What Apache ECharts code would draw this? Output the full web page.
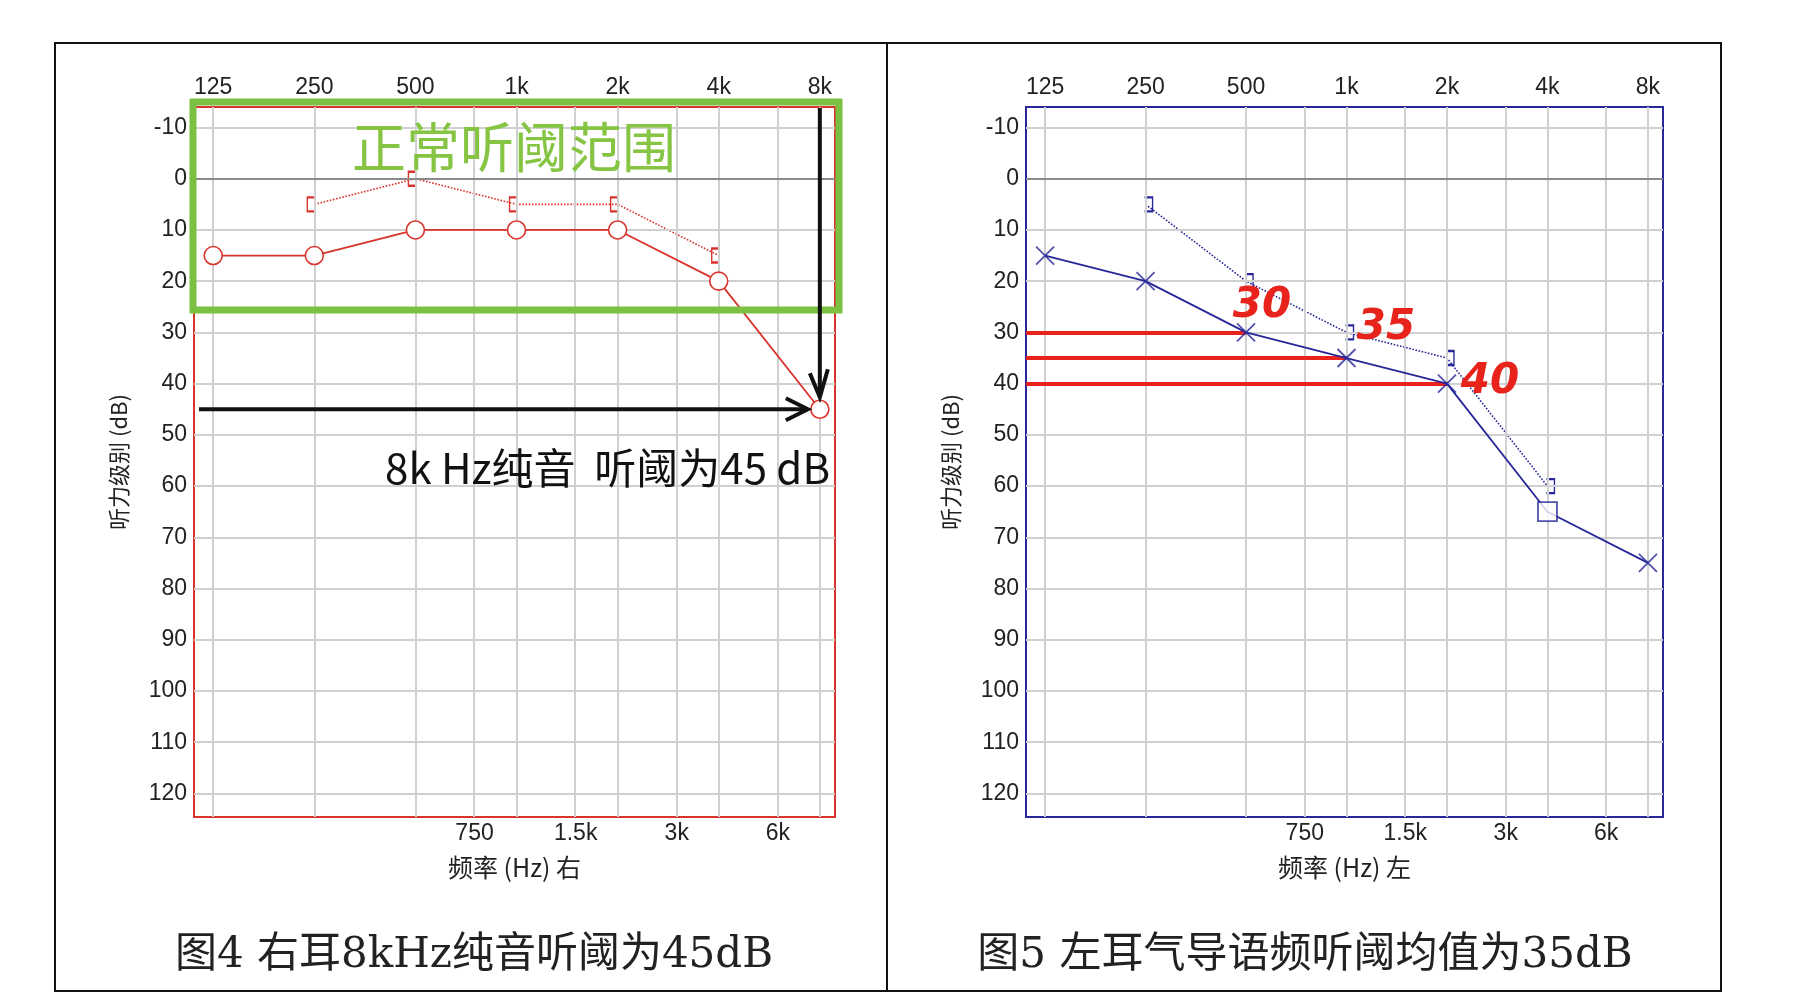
<!DOCTYPE html>
<html><head><meta charset="utf-8">
<script src="https://cdn.jsdelivr.net/npm/echarts@6/dist/echarts.min.js"></script>
<style>html,body{margin:0;padding:0;background:#fff}#c{width:1813px;height:1000px}</style>
</head><body><div id="c"></div>
<script>
const freqs = [125, 250, 500, 1000, 2000, 4000, 8000];
const topLabels = ['125', '250', '500', '1k', '2k', '4k', '8k'];
const midFreqs = [750, 1500, 3000, 6000];
const midLabels = ['750', '1.5k', '3k', '6k'];
const dbTicks = [-10, 0, 10, 20, 30, 40, 50, 60, 70, 80, 90, 100, 110, 120];

const rightAC = [15, 15, 10, 10, 10, 20, 45];
const rightBCFreq = [250, 500, 1000, 2000, 4000];
const rightBC = [5, 0, 5, 5, 15];

const leftACFreq = [125, 250, 500, 1000, 2000, 8000];
const leftAC = [15, 20, 30, 35, 40, 75];
const leftMaskedFreq = [4000];
const leftMasked = [65];
const leftBCFreq = [250, 500, 1000, 2000, 4000];
const leftBC = [5, 20, 30, 35, 60];
const pta = [[500, 30], [1000, 35], [2000, 40]];

const oct = f => Math.log2(f / 125);
const pts = (fs, vs) => fs.map((f, i) => [oct(f), vs[i]]);

const XMIN = -0.19, XMAX = 6.15, YMIN = -14.0, YMAX = 124.6;
const RED = '#d9332b', BLUE = '#27279a';
const X_SYM = 'path://M0,0L10,10M10,0L0,10';
const LB_SYM = 'path://M5,0L0,0L0,10L5,10';
const RB_SYM = 'path://M0,0L5,0L5,10L0,10';
const LBL = {color: '#222', fontSize: 23, fontFamily: 'Liberation Sans'};

const grids = [
  {left: 194, top: 107, width: 641, height: 710},
  {left: 1026, top: 107, width: 637, height: 710}
];
const xAxes = [], yAxes = [], series = [];
[0, 1].forEach(g => {
  const col = g === 0 ? RED : BLUE;
  const line = {show: true, onZero: false, lineStyle: {color: col, width: 2}};
  xAxes.push({gridIndex: g, type: 'value', position: 'top', min: XMIN, max: XMAX,
    splitLine: {show: false}, axisLine: line, axisTick: {show: false},
    axisLabel: Object.assign({customValues: freqs.map(oct), formatter: v => topLabels[Math.round(v)], margin: 8}, LBL)});
  xAxes.push({gridIndex: g, type: 'value', position: 'bottom', min: XMIN, max: XMAX,
    splitLine: {show: false}, axisLine: line, axisTick: {show: false},
    name: g === 0 ? '频率 (Hz) 右' : '频率 (Hz) 左', nameLocation: 'middle', nameGap: 38,
    nameTextStyle: {color: '#222', fontSize: 25, fontFamily: 'Noto Sans CJK SC'},
    axisLabel: Object.assign({customValues: midFreqs.map(oct), formatter: v => midLabels[midFreqs.findIndex(f => Math.abs(oct(f) - v) < 1e-6)], margin: 5}, LBL)});
  yAxes.push({gridIndex: g, type: 'value', inverse: true, min: YMIN, max: YMAX,
    splitLine: {show: false}, axisLine: line, axisTick: {show: false},
    name: '听力级别 (dB)', nameLocation: 'middle', nameGap: 64, nameRotate: 90,
    nameTextStyle: {color: '#222', fontSize: 22, fontFamily: 'Noto Sans CJK SC'},
    axisLabel: Object.assign({customValues: dbTicks, margin: 7}, LBL)});
  yAxes.push({gridIndex: g, type: 'value', inverse: true, min: YMIN, max: YMAX, position: 'right',
    axisLine: line, axisLabel: {show: false}, axisTick: {show: false}, splitLine: {show: false}});
  const gl = [];
  freqs.concat(midFreqs).forEach(f => gl.push({xAxis: oct(f), lineStyle: {color: '#d0d0d0', width: 2, type: 'solid'}}));
  dbTicks.forEach(v => gl.push({yAxis: v, lineStyle: {color: v === 0 ? '#8a8a8a' : '#d0d0d0', width: 2, type: 'solid'}}));
  series.push({type: 'line', xAxisIndex: g * 2, yAxisIndex: g * 2, data: [], silent: true, z: 1,
    markLine: {silent: true, symbol: 'none', label: {show: false}, animation: false, data: gl}});
});

series.push({type: 'line', xAxisIndex: 0, yAxisIndex: 0, data: pts(freqs, rightAC), z: 5,
  symbol: 'circle', symbolSize: 18, lineStyle: {color: RED, width: 1.8},
  itemStyle: {color: '#fff', borderColor: RED, borderWidth: 1.6}});
series.push({type: 'line', xAxisIndex: 0, yAxisIndex: 0, data: pts(rightBCFreq, rightBC), z: 4,
  symbol: LB_SYM, symbolSize: [8, 14], symbolOffset: [-3, 0], lineStyle: {color: RED, width: 1.6, type: 'dotted'},
  itemStyle: {color: 'none', borderColor: RED, borderWidth: 1.8}});
series.push({type: 'line', xAxisIndex: 2, yAxisIndex: 2, data: pts(leftACFreq.slice(0, 5), leftAC.slice(0, 5)).concat(pts(leftMaskedFreq, leftMasked)).concat(pts(leftACFreq.slice(5), leftAC.slice(5))), z: 5,
  symbol: 'none', lineStyle: {color: BLUE, width: 1.8}});
series.push({type: 'scatter', xAxisIndex: 2, yAxisIndex: 2, data: pts(leftACFreq, leftAC), z: 6,
  symbol: X_SYM, symbolSize: 18, itemStyle: {color: 'none', borderColor: BLUE, borderWidth: 1.8}});
series.push({type: 'scatter', xAxisIndex: 2, yAxisIndex: 2, data: pts(leftMaskedFreq, leftMasked), z: 6,
  symbol: 'rect', symbolSize: 19, itemStyle: {color: '#fff', borderColor: BLUE, borderWidth: 1.8}});
series.push({type: 'line', xAxisIndex: 2, yAxisIndex: 2, data: pts(leftBCFreq, leftBC), z: 4,
  symbol: RB_SYM, symbolSize: [8, 14], symbolOffset: [3, 0], lineStyle: {color: BLUE, width: 1.6, type: 'dotted'},
  itemStyle: {color: 'none', borderColor: BLUE, borderWidth: 1.8}});
series.push({type: 'line', xAxisIndex: 2, yAxisIndex: 2, data: [], z: 7,
  markLine: {silent: true, symbol: 'none', label: {show: false}, animation: false,
    lineStyle: {color: '#e8231c', width: 4, type: 'solid'},
    data: pta.map(p => [{coord: [XMIN, p[1]]}, {coord: [oct(p[0]), p[1]]}])}});

const chart = echarts.init(document.getElementById('c'));
chart.setOption({animation: false, grid: grids, xAxis: xAxes, yAxis: yAxes, series});

const p8 = chart.convertToPixel({gridIndex: 0}, [oct(8000), 45]);
const g0 = grids[0];
const HAND = 'italic bold 42px "DejaVu Sans"';
const graphic = [
  {type: 'rect', shape: {x: 55, y: 43, width: 1666, height: 948}, style: {fill: 'none', stroke: '#111', lineWidth: 2}},
  {type: 'line', shape: {x1: 887, y1: 43, x2: 887, y2: 991}, style: {stroke: '#111', lineWidth: 2}},
  {type: 'rect', shape: {x: g0.left - 1, y: 102, width: g0.width + 5, height: 208}, style: {fill: 'none', stroke: '#7bc043', lineWidth: 7}, z: 20},
  {type: 'text', x: 514, y: 147, style: {text: '正常听阈范围', fill: '#86c443', font: '54px "Noto Sans CJK SC"', align: 'center', verticalAlign: 'middle'}, z: 20},
  {type: 'line', shape: {x1: 199, y1: p8[1], x2: p8[0] - 12, y2: p8[1]}, style: {stroke: '#111', lineWidth: 4}, z: 20},
  {type: 'polyline', shape: {points: [[p8[0] - 34, p8[1] - 11], [p8[0] - 12, p8[1]], [p8[0] - 34, p8[1] + 11]]}, style: {stroke: '#111', lineWidth: 4, fill: 'none'}, z: 20},
  {type: 'line', shape: {x1: p8[0], y1: 108, x2: p8[0], y2: p8[1] - 12}, style: {stroke: '#111', lineWidth: 4}, z: 20},
  {type: 'polyline', shape: {points: [[p8[0] - 10, p8[1] - 36], [p8[0], p8[1] - 12], [p8[0] + 8, p8[1] - 40]]}, style: {stroke: '#111', lineWidth: 4, fill: 'none'}, z: 20},
  {type: 'text', x: 830, y: 468, style: {text: '8k Hz纯音  听阈为45 dB', fill: '#111', font: '42px "Noto Sans CJK SC"', align: 'right', verticalAlign: 'middle'}, z: 20},
  {type: 'text', x: 1262, y: 306, style: {text: '30', fill: '#e8231c', font: HAND, align: 'center', verticalAlign: 'middle'}, z: 20},
  {type: 'text', x: 1386, y: 328, style: {text: '35', fill: '#e8231c', font: HAND, align: 'center', verticalAlign: 'middle'}, z: 20},
  {type: 'text', x: 1490, y: 382, style: {text: '40', fill: '#e8231c', font: HAND, align: 'center', verticalAlign: 'middle'}, z: 20},
  {type: 'text', x: 474, y: 956, style: {text: '图4 右耳8kHz纯音听阈为45dB', fill: '#222', font: '42px "DejaVu Serif", "Noto Sans CJK SC"', align: 'center', verticalAlign: 'middle'}},
  {type: 'text', x: 1305, y: 956, style: {text: '图5 左耳气导语频听阈均值为35dB', fill: '#222', font: '42px "DejaVu Serif", "Noto Sans CJK SC"', align: 'center', verticalAlign: 'middle'}}
];
chart.setOption({graphic});
</script></body></html>
